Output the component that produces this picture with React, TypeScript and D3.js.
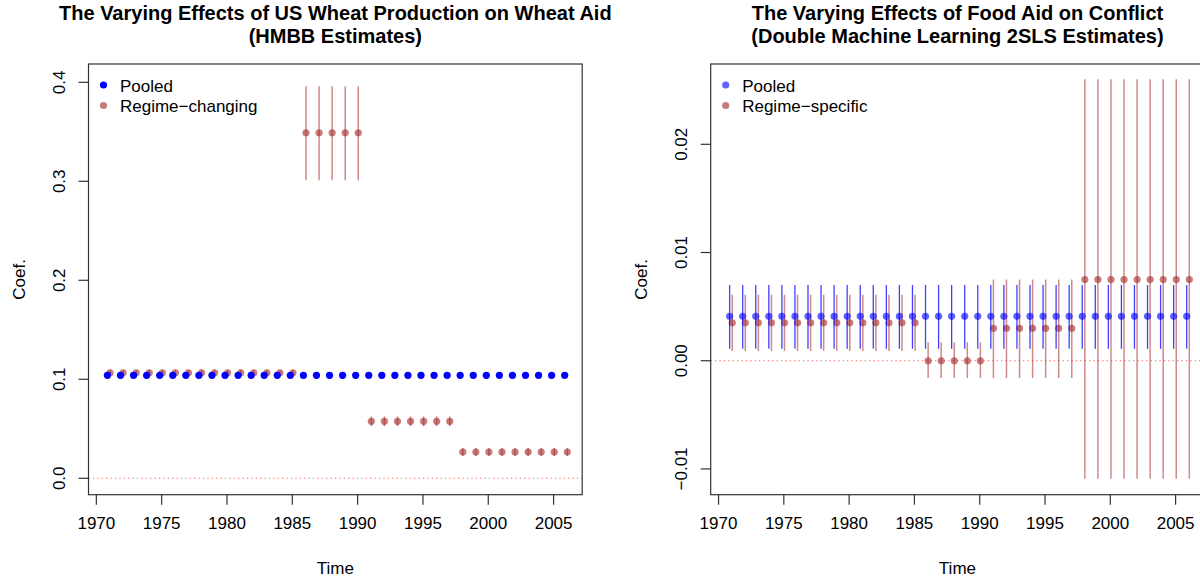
import React from 'react';
import * as d3 from 'd3';

// years on the x axis
const years = [
  1971, 1972, 1973, 1974, 1975, 1976, 1977, 1978, 1979, 1980, 1981, 1982,
  1983, 1984, 1985, 1986, 1987, 1988, 1989, 1990, 1991, 1992, 1993, 1994,
  1995, 1996, 1997, 1998, 1999, 2000, 2001, 2002, 2003, 2004, 2005, 2006
];

// left panel: wheat production -> wheat aid (HMBB)
const wheatPooledEst = [
  0.104, 0.104, 0.104, 0.104, 0.104, 0.104, 0.104, 0.104, 0.104, 0.104, 0.104, 0.104,
  0.104, 0.104, 0.104, 0.104, 0.104, 0.104, 0.104, 0.104, 0.104, 0.104, 0.104, 0.104,
  0.104, 0.104, 0.104, 0.104, 0.104, 0.104, 0.104, 0.104, 0.104, 0.104, 0.104, 0.104
];
const wheatPooledLo = [
  0.1025, 0.1025, 0.1025, 0.1025, 0.1025, 0.1025, 0.1025, 0.1025, 0.1025, 0.1025, 0.1025, 0.1025,
  0.1025, 0.1025, 0.1025, 0.1025, 0.1025, 0.1025, 0.1025, 0.1025, 0.1025, 0.1025, 0.1025, 0.1025,
  0.1025, 0.1025, 0.1025, 0.1025, 0.1025, 0.1025, 0.1025, 0.1025, 0.1025, 0.1025, 0.1025, 0.1025
];
const wheatPooledHi = [
  0.1055, 0.1055, 0.1055, 0.1055, 0.1055, 0.1055, 0.1055, 0.1055, 0.1055, 0.1055, 0.1055, 0.1055,
  0.1055, 0.1055, 0.1055, 0.1055, 0.1055, 0.1055, 0.1055, 0.1055, 0.1055, 0.1055, 0.1055, 0.1055,
  0.1055, 0.1055, 0.1055, 0.1055, 0.1055, 0.1055, 0.1055, 0.1055, 0.1055, 0.1055, 0.1055, 0.1055
];
const wheatRegimeEst = [
  0.1065, 0.1065, 0.1065, 0.1065, 0.1065, 0.1065, 0.1065, 0.1065, 0.1065, 0.1065, 0.1065, 0.1065,
  0.1065, 0.1065, 0.1065, 0.349, 0.349, 0.349, 0.349, 0.349, 0.0575, 0.0575, 0.0575, 0.0575,
  0.0575, 0.0575, 0.0575, 0.0265, 0.0265, 0.0265, 0.0265, 0.0265, 0.0265, 0.0265, 0.0265, 0.0265
];
const wheatRegimeLo = [
  0.1035, 0.1035, 0.1035, 0.1035, 0.1035, 0.1035, 0.1035, 0.1035, 0.1035, 0.1035, 0.1035, 0.1035,
  0.1035, 0.1035, 0.1035, 0.301, 0.301, 0.301, 0.301, 0.301, 0.0525, 0.0525, 0.0525, 0.0525,
  0.0525, 0.0525, 0.0525, 0.0225, 0.0225, 0.0225, 0.0225, 0.0225, 0.0225, 0.0225, 0.0225, 0.0225
];
const wheatRegimeHi = [
  0.1095, 0.1095, 0.1095, 0.1095, 0.1095, 0.1095, 0.1095, 0.1095, 0.1095, 0.1095, 0.1095, 0.1095,
  0.1095, 0.1095, 0.1095, 0.396, 0.396, 0.396, 0.396, 0.396, 0.0625, 0.0625, 0.0625, 0.0625,
  0.0625, 0.0625, 0.0625, 0.0305, 0.0305, 0.0305, 0.0305, 0.0305, 0.0305, 0.0305, 0.0305, 0.0305
];

// right panel: food aid -> conflict (DML 2SLS)
const conflictPooledEst = [
  0.0041, 0.0041, 0.0041, 0.0041, 0.0041, 0.0041, 0.0041, 0.0041, 0.0041, 0.0041, 0.0041, 0.0041,
  0.0041, 0.0041, 0.0041, 0.0041, 0.0041, 0.0041, 0.0041, 0.0041, 0.0041, 0.0041, 0.0041, 0.0041,
  0.0041, 0.0041, 0.0041, 0.0041, 0.0041, 0.0041, 0.0041, 0.0041, 0.0041, 0.0041, 0.0041, 0.0041
];
const conflictPooledLo = [
  0.0011, 0.0011, 0.0011, 0.0011, 0.0011, 0.0011, 0.0011, 0.0011, 0.0011, 0.0011, 0.0011, 0.0011,
  0.0011, 0.0011, 0.0011, 0.0011, 0.0011, 0.0011, 0.0011, 0.0011, 0.0011, 0.0011, 0.0011, 0.0011,
  0.0011, 0.0011, 0.0011, 0.0011, 0.0011, 0.0011, 0.0011, 0.0011, 0.0011, 0.0011, 0.0011, 0.0011
];
const conflictPooledHi = [
  0.0070, 0.0070, 0.0070, 0.0070, 0.0070, 0.0070, 0.0070, 0.0070, 0.0070, 0.0070, 0.0070, 0.0070,
  0.0070, 0.0070, 0.0070, 0.0070, 0.0070, 0.0070, 0.0070, 0.0070, 0.0070, 0.0070, 0.0070, 0.0070,
  0.0070, 0.0070, 0.0070, 0.0070, 0.0070, 0.0070, 0.0070, 0.0070, 0.0070, 0.0070, 0.0070, 0.0070
];
const conflictRegimeEst = [
  0.0035, 0.0035, 0.0035, 0.0035, 0.0035, 0.0035, 0.0035, 0.0035, 0.0035, 0.0035, 0.0035, 0.0035,
  0.0035, 0.0035, 0.0035, 0.0, 0.0, 0.0, 0.0, 0.0, 0.003, 0.003, 0.003, 0.003,
  0.003, 0.003, 0.003, 0.0075, 0.0075, 0.0075, 0.0075, 0.0075, 0.0075, 0.0075, 0.0075, 0.0075
];
const conflictRegimeLo = [
  0.0009, 0.0009, 0.0009, 0.0009, 0.0009, 0.0009, 0.0009, 0.0009, 0.0009, 0.0009, 0.0009, 0.0009,
  0.0009, 0.0009, 0.0009, -0.0016, -0.0016, -0.0016, -0.0016, -0.0016, -0.0016, -0.0016, -0.0016, -0.0016,
  -0.0016, -0.0016, -0.0016, -0.0109, -0.0109, -0.0109, -0.0109, -0.0109, -0.0109, -0.0109, -0.0109, -0.0109
];
const conflictRegimeHi = [
  0.0061, 0.0061, 0.0061, 0.0061, 0.0061, 0.0061, 0.0061, 0.0061, 0.0061, 0.0061, 0.0061, 0.0061,
  0.0061, 0.0061, 0.0061, 0.0017, 0.0017, 0.0017, 0.0017, 0.0017, 0.0075, 0.0075, 0.0075, 0.0075,
  0.0075, 0.0075, 0.0075, 0.026, 0.026, 0.026, 0.026, 0.026, 0.026, 0.026, 0.026, 0.026
];

// tick values and labels
const xTicks = [1970, 1975, 1980, 1985, 1990, 1995, 2000, 2005];
const wheatYTicks = [0, 0.1, 0.2, 0.3, 0.4];
const wheatYLabels = ['0.0', '0.1', '0.2', '0.3', '0.4'];
const conflictYTicks = [-0.01, 0, 0.01, 0.02];
const conflictYLabels = ['\u22120.01', '0.00', '0.01', '0.02'];

const FONT = '"Liberation Sans", Arial, Helvetica, sans-serif';
const RED = '#A52A2A';

interface Series {
  est: number[];
  lo: number[];
  hi: number[];
}

interface PanelProps {
  left: number;
  right: number;
  yDomain: [number, number];
  yTicks: number[];
  yLabels: string[];
  title: string[];
  pooled: Series;
  regime: Series;
  regimeName: string;
  pooledOpacity: number;
}

const Panel = ({
  left,
  right,
  yDomain,
  yTicks,
  yLabels,
  title,
  pooled,
  regime,
  regimeName,
  pooledOpacity
}: PanelProps): JSX.Element => {
  const top = 64;
  const bottom = 494.7;
  const x = d3.scaleLinear().domain([1969.4, 2007.19]).range([left, right]);
  const y = d3.scaleLinear().domain(yDomain).range([bottom, top]);
  const cx = (left + right) / 2;
  const midY = (top + bottom) / 2;
  // small horizontal shift R gave the two series
  const bx = (t: number) => x(t - 0.15);
  const rx = (t: number) => x(t + 0.05);

  return (
    <g fontFamily={FONT}>
      {/* titles */}
      <text x={cx} y={20} textAnchor="middle" fontWeight="bold" fontSize={20}>
        {title[0]}
      </text>
      <text x={cx} y={43} textAnchor="middle" fontWeight="bold" fontSize={20}>
        {title[1]}
      </text>

      {/* zero reference */}
      <line
        x1={left}
        x2={right}
        y1={y(0)}
        y2={y(0)}
        stroke="#ff0000"
        strokeOpacity={0.65}
        strokeDasharray="1.2,3.2"
      />

      {/* regime series first */}
      {years.map((t, i) => (
        <line
          key={'rl' + t}
          x1={rx(t)}
          x2={rx(t)}
          y1={y(regime.lo[i])}
          y2={y(regime.hi[i])}
          stroke={RED}
          strokeOpacity={0.55}
          strokeWidth={1.5}
        />
      ))}
      {years.map((t, i) => (
        <circle key={'rp' + t} cx={rx(t)} cy={y(regime.est[i])} r={3.6} fill={RED} fillOpacity={0.62} />
      ))}

      {/* pooled series */}
      {years.map((t, i) => (
        <line
          key={'bl' + t}
          x1={bx(t)}
          x2={bx(t)}
          y1={y(pooled.lo[i])}
          y2={y(pooled.hi[i])}
          stroke="#0000ff"
          strokeOpacity={0.75}
          strokeWidth={1.3}
        />
      ))}
      {years.map((t, i) => (
        <circle
          key={'bp' + t}
          cx={bx(t)}
          cy={y(pooled.est[i])}
          r={3.6}
          fill="#0000ff"
          fillOpacity={pooledOpacity}
        />
      ))}

      {/* box */}
      <rect x={left} y={top} width={right - left} height={bottom - top} fill="none" stroke="#333" strokeWidth={1.2} />

      {/* x axis */}
      {xTicks.map((t) => (
        <g key={'xt' + t}>
          <line x1={x(t)} x2={x(t)} y1={bottom} y2={bottom + 10} stroke="#333" strokeWidth={1.2} />
          <text x={x(t)} y={529} textAnchor="middle" fontSize={17}>
            {t}
          </text>
        </g>
      ))}
      <text x={cx} y={574} textAnchor="middle" fontSize={17}>
        Time
      </text>

      {/* y axis */}
      {yTicks.map((v, i) => (
        <g key={'yt' + v}>
          <line x1={left - 10} x2={left} y1={y(v)} y2={y(v)} stroke="#333" strokeWidth={1.2} />
          <text
            transform={`translate(${left - 24},${y(v)}) rotate(-90)`}
            textAnchor="middle"
            fontSize={17}
          >
            {yLabels[i]}
          </text>
        </g>
      ))}
      <text transform={`translate(${left - 64},${midY}) rotate(-90)`} textAnchor="middle" fontSize={17}>
        Coef.
      </text>

      {/* legend */}
      <circle cx={left + 15} cy={85} r={3.6} fill="#0000ff" fillOpacity={pooledOpacity} />
      <text x={left + 31.5} y={91.5} fontSize={17}>
        Pooled
      </text>
      <circle cx={left + 15} cy={105.5} r={3.6} fill={RED} fillOpacity={0.62} />
      <text x={left + 31.5} y={112} fontSize={17}>
        {regimeName}
      </text>
    </g>
  );
};

export default function App(): JSX.Element {
  return (
    <svg
      width={1200}
      height={581}
      style={{ position: 'absolute', left: 0, top: 0, background: '#fff', display: 'block' }}
    >
      <rect width={1200} height={581} fill="#fff" />
      <Panel
        left={88.5}
        right={582.2}
        yDomain={[-0.0166, 0.4185]}
        yTicks={wheatYTicks}
        yLabels={wheatYLabels}
        title={['The Varying Effects of US Wheat Production on Wheat Aid', '(HMBB Estimates)']}
        pooled={{ est: wheatPooledEst, lo: wheatPooledLo, hi: wheatPooledHi }}
        regime={{ est: wheatRegimeEst, lo: wheatRegimeLo, hi: wheatRegimeHi }}
        regimeName={'Regime\u2212changing'}
        pooledOpacity={1}
      />
      <Panel
        left={710.7}
        right={1204.2}
        yDomain={[-0.01238, 0.02742]}
        yTicks={conflictYTicks}
        yLabels={conflictYLabels}
        title={['The Varying Effects of Food Aid on Conflict', '(Double Machine Learning 2SLS Estimates)']}
        pooled={{ est: conflictPooledEst, lo: conflictPooledLo, hi: conflictPooledHi }}
        regime={{ est: conflictRegimeEst, lo: conflictRegimeLo, hi: conflictRegimeHi }}
        regimeName={'Regime\u2212specific'}
        pooledOpacity={0.62}
      />
    </svg>
  );
}
